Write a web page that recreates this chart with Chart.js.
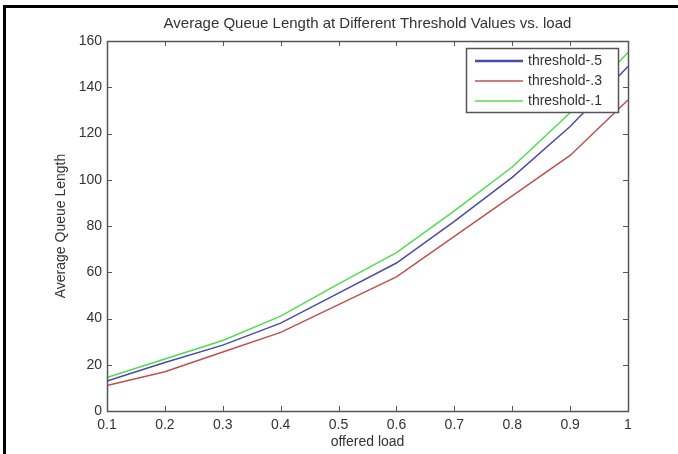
<!DOCTYPE html>
<html>
<head>
<meta charset="utf-8">
<script src="https://cdn.jsdelivr.net/npm/chart.js@4"></script>
<style>
    html, body { margin: 0; padding: 0; background: #fff; overflow: hidden; }
    #wrap { position: relative; width: 678px; height: 454px; overflow: hidden; }
    #chart-queue { display: block; }
    #frame {
        position: absolute; left: 3px; top: 5px; width: 680px; height: 460px;
        border-left: 3px solid #000; border-top: 3px solid #000;
        pointer-events: none;
    }
</style>
</head>
<body>
<div id="wrap">
    <canvas id="chart-queue" width="678" height="454"></canvas>
    <div id="frame"></div>
</div>
<script>
const loads = ['0.1', '0.2', '0.3', '0.4', '0.5', '0.6', '0.7', '0.8', '0.9', '1'];
const yTicks = [0, 20, 40, 60, 80, 100, 120, 140, 160];

const threshold5 = [13, 21, 28.5, 38, 51, 64, 82, 101, 123, 149];
const threshold3 = [11, 17, 25.5, 34, 46, 58, 75.5, 93, 110.5, 134.5];
const threshold1 = [14.5, 22.5, 30.5, 41, 55, 68.5, 86.5, 105.5, 129, 155];

const FONT = "'Liberation Sans', Arial, sans-serif";
const TEXT = '#333333';
const AXIS = '#555555';

// matlab-like box with ticks pointing inwards on all four sides
const boxPlugin = {
    id: 'matlabBox',
    afterDatasetsDraw(chart) {
        const { ctx, chartArea: a, scales } = chart;
        const len = 5;
        ctx.save();
        ctx.strokeStyle = AXIS;
        ctx.lineWidth = 1;
        ctx.beginPath();
        scales.x.ticks.forEach((t, i) => {
            const px = Math.round(scales.x.getPixelForTick(i)) + 0.5;
            ctx.moveTo(px, a.bottom); ctx.lineTo(px, a.bottom - len);
            ctx.moveTo(px, a.top); ctx.lineTo(px, a.top + len);
        });
        scales.y.ticks.forEach((t, i) => {
            const py = Math.round(scales.y.getPixelForTick(i)) + 0.5;
            ctx.moveTo(a.left, py); ctx.lineTo(a.left + len, py);
            ctx.moveTo(a.right, py); ctx.lineTo(a.right - len, py);
        });
        ctx.stroke();
        ctx.lineWidth = 1.5;
        ctx.strokeRect(Math.round(a.left) + 0.5, Math.round(a.top) + 0.5,
            Math.round(a.right - a.left), Math.round(a.bottom - a.top));
        ctx.restore();
    }
};

// legend box in the upper right corner
const legendPlugin = {
    id: 'boxLegend',
    afterDatasetsDraw(chart) {
        const { ctx, chartArea: a } = chart;
        const right = a.right - 10, top = a.top + 7;
        const w = 152, h = 64;
        const left = right - w;
        ctx.save();
        ctx.fillStyle = '#fff';
        ctx.fillRect(left, top, w, h);
        ctx.strokeStyle = AXIS;
        ctx.lineWidth = 1.5;
        ctx.strokeRect(left + 0.5, top + 0.5, w, h);
        ctx.font = '14px ' + FONT;
        ctx.textBaseline = 'middle';
        ctx.fillStyle = TEXT;
        chart.data.datasets.forEach((ds, i) => {
            const y = top + 13 + i * 20;
            ctx.strokeStyle = ds.borderColor;
            ctx.lineWidth = i === 0 ? 2.5 : 1.5;
            ctx.beginPath();
            ctx.moveTo(left + 9, y);
            ctx.lineTo(left + 57, y);
            ctx.stroke();
            ctx.fillText(ds.label, left + 62, y);
        });
        ctx.restore();
    }
};

const ctx = document.getElementById('chart-queue');

new Chart(ctx, {
    type: 'line',
    data: {
        labels: loads,
        datasets: [{
            label: 'threshold-.5',
            data: threshold5,
            borderColor: '#4a4aa8',
            borderWidth: 1.5
        }, {
            label: 'threshold-.3',
            data: threshold3,
            borderColor: '#c05050',
            borderWidth: 1.5
        }, {
            label: 'threshold-.1',
            data: threshold1,
            borderColor: '#50dc50',
            borderWidth: 1.5
        }]
    },
    options: {
        responsive: false,
        animation: false,
        elements: {
            point: { radius: 0 },
            line: { tension: 0 }
        },
        layout: {
            padding: { left: 0, right: 50, top: 0, bottom: 0 }
        },
        plugins: {
            legend: { display: false },
            tooltip: { enabled: false },
            title: {
                display: true,
                fullSize: false,
                text: 'Average Queue Length at Different Threshold Values vs. load',
                color: TEXT,
                font: { family: FONT, size: 15, weight: 'normal' },
                padding: { top: 15, bottom: 8 }
            }
        },
        scales: {
            x: {
                offset: false,
                grid: { display: false, drawTicks: false },
                border: { display: false },
                ticks: {
                    color: TEXT,
                    font: { family: FONT, size: 14 },
                    padding: 6,
                    maxRotation: 0,
                    autoSkip: false
                },
                title: {
                    display: true,
                    text: 'offered load',
                    color: TEXT,
                    font: { family: FONT, size: 14 },
                    padding: { top: 0, bottom: 3 }
                },
                afterFit(scale) { scale.height = 43; }
            },
            y: {
                min: yTicks[0],
                max: yTicks[yTicks.length - 1],
                grid: { display: false, drawTicks: false },
                border: { display: false },
                afterBuildTicks(scale) {
                    scale.ticks = yTicks.map(v => ({ value: v }));
                },
                ticks: {
                    color: TEXT,
                    font: { family: FONT, size: 14 },
                    padding: 5
                },
                title: {
                    display: true,
                    text: 'Average Queue Length',
                    color: TEXT,
                    font: { family: FONT, size: 14 },
                    padding: { top: 53, bottom: 0 }
                },
                afterFit(scale) { scale.width = 107; }
            }
        }
    },
    plugins: [boxPlugin, legendPlugin]
});
</script>
</body>
</html>
